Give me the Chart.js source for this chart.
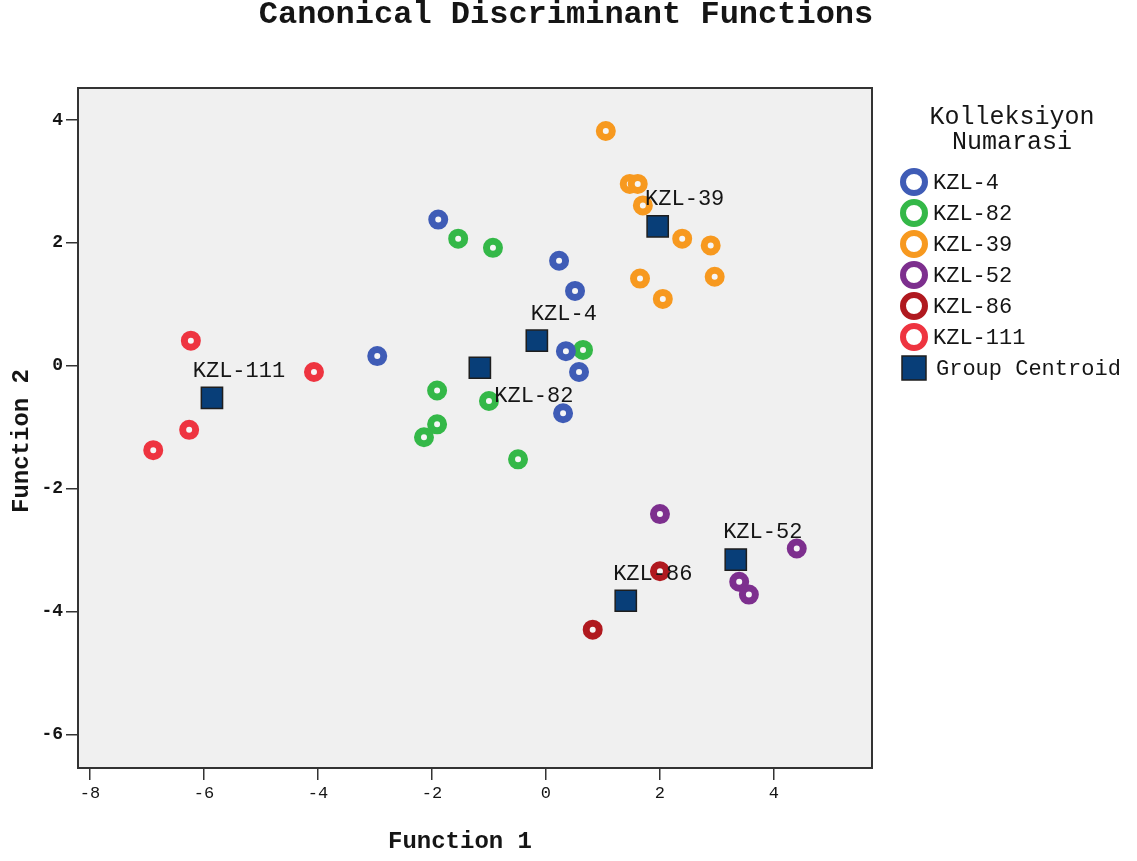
<!DOCTYPE html>
<html>
<head>
<meta charset="utf-8">
<script src="https://cdn.jsdelivr.net/npm/chart.js@4/dist/chart.umd.min.js"></script>
<style>
  html, body { margin: 0; padding: 0; background: #fff; }
  #wrap { width: 1137px; height: 861px; }
</style>
</head>
<body>
<div id="wrap"><canvas id="cdf"></canvas></div>
<script>
const groups = ["KZL-4", "KZL-82", "KZL-39", "KZL-52", "KZL-86", "KZL-111"];
const colors = ["#3f5cb6", "#34b848", "#f7991f", "#7d2f8e", "#b0191f", "#ee3440"];

// case scores, Function 1 / Function 2
const kzl4X = [-1.89, -2.96, 0.23, 0.51, 0.35, 0.58, 0.30];
const kzl4Y = [2.38, 0.16, 1.71, 1.22, 0.24, -0.10, -0.77];
const kzl82X = [-1.54, -0.93, 0.65, -1.91, -1.00, -1.91, -2.14, -0.49];
const kzl82Y = [2.07, 1.92, 0.26, -0.40, -0.57, -0.95, -1.16, -1.52];
const kzl39X = [1.05, 1.47, 1.61, 1.70, 2.39, 2.89, 2.96, 1.65, 2.05];
const kzl39Y = [3.82, 2.96, 2.96, 2.61, 2.07, 1.96, 1.45, 1.42, 1.09];
const kzl52X = [2.00, 4.40, 3.39, 3.56];
const kzl52Y = [-2.41, -2.97, -3.51, -3.72];
const kzl86X = [2.00, 0.82];
const kzl86Y = [-3.34, -4.29];
const kzl111X = [-6.23, -4.07, -6.26, -6.89];
const kzl111Y = [0.41, -0.10, -1.04, -1.37];

// group centroids, same order as groups
const centroidX = [-0.16, -1.16, 1.96, 3.33, 1.40, -5.86];
const centroidY = [0.41, -0.03, 2.27, -3.15, -3.82, -0.52];

const xTicks = [-8, -6, -4, -2, 0, 2, 4];
const yTicks = [-6, -4, -2, 0, 2, 4];

const seriesX = [kzl4X, kzl82X, kzl39X, kzl52X, kzl86X, kzl111X];
const seriesY = [kzl4Y, kzl82Y, kzl39Y, kzl52Y, kzl86Y, kzl111Y];

const MONO = "'Liberation Mono', 'Courier New', monospace";
const INK = "#151515";

const datasets = groups.map((g, i) => ({
  label: g,
  data: seriesX[i].map((x, j) => ({ x: x, y: seriesY[i][j] })),
  pointStyle: "circle",
  pointRadius: 6.5,
  pointHoverRadius: 6.5,
  borderWidth: 7,
  borderColor: colors[i],
  backgroundColor: "#f6f6f6",
  order: 2
}));

datasets.push({
  label: "Group Centroid",
  data: centroidX.map((x, i) => ({ x: x, y: centroidY[i] })),
  pointStyle: "rect",
  pointRadius: 15,
  pointHoverRadius: 15,
  borderWidth: 1.5,
  borderColor: "#1e1e1e",
  backgroundColor: "#083e78",
  order: 1
});

// label placement relative to centroid (px)
const labelShift = { "KZL-82": [54, 28] };

const frame = {
  id: "frame",
  beforeDatasetsDraw(chart) {
    const { ctx, chartArea: a } = chart;
    ctx.save();
    ctx.fillStyle = "#f0f0f0";
    ctx.fillRect(a.left, a.top, a.right - a.left, a.bottom - a.top);
    ctx.restore();
  },
  afterDatasetsDraw(chart) {
    const { ctx, chartArea: a, scales } = chart;
    ctx.save();
    ctx.strokeStyle = "#333";
    ctx.lineWidth = 2;
    ctx.strokeRect(a.left, a.top, a.right - a.left, a.bottom - a.top);

    // centroid labels
    ctx.font = "22px " + MONO;
    ctx.fillStyle = INK;
    ctx.textAlign = "center";
    ctx.textBaseline = "middle";
    groups.forEach((g, i) => {
      const px = scales.x.getPixelForValue(centroidX[i]);
      const py = scales.y.getPixelForValue(centroidY[i]);
      const s = labelShift[g] || [27, -27];
      ctx.fillText(g, px + s[0], py + s[1]);
    });
    ctx.restore();
  },
  afterDraw(chart) {
    const { ctx } = chart;
    ctx.save();
    ctx.fillStyle = INK;
    ctx.textBaseline = "middle";
    ctx.textAlign = "center";
    ctx.font = "bold 32px " + MONO;
    ctx.fillText("Canonical Discriminant Functions", 566, 15);

    // axis titles
    ctx.font = "bold 24px " + MONO;
    ctx.fillText("Function 1", 460, 842);
    ctx.save();
    ctx.translate(22, 441);
    ctx.rotate(-Math.PI / 2);
    ctx.fillText("Function 2", 0, 0);
    ctx.restore();

    // legend
    ctx.font = "25px " + MONO;
    ctx.fillText("Kolleksiyon", 1012, 117);
    ctx.fillText("Numarasi", 1012, 142);

    ctx.font = "22px " + MONO;
    ctx.textAlign = "left";
    const ds = chart.data.datasets;
    ds.forEach((d, i) => {
      const y = 182 + i * 31;
      if (d.pointStyle === "rect") {
        ctx.fillStyle = d.backgroundColor;
        ctx.fillRect(902, y - 12, 24, 24);
        ctx.strokeStyle = d.borderColor;
        ctx.lineWidth = 1.5;
        ctx.strokeRect(902, y - 12, 24, 24);
        ctx.fillStyle = INK;
        ctx.fillText(d.label, 936, y + 1);
      } else {
        ctx.beginPath();
        ctx.arc(914, y, 11, 0, Math.PI * 2);
        ctx.fillStyle = "#fff";
        ctx.fill();
        ctx.strokeStyle = d.borderColor;
        ctx.lineWidth = 6;
        ctx.stroke();
        ctx.fillStyle = INK;
        ctx.fillText(d.label, 933, y + 1);
      }
    });
    ctx.restore();
  }
};

new Chart(document.getElementById("cdf"), {
  type: "scatter",
  data: { datasets: datasets },
  options: {
    responsive: true,
    maintainAspectRatio: false,
    animation: false,
    layout: { padding: { top: 88, right: 265, left: 0, bottom: 0 } },
    plugins: {
      legend: { display: false },
      title: { display: false },
      tooltip: { enabled: false }
    },
    scales: {
      x: {
        type: "linear",
        min: -8.21,
        max: 5.72,
        afterFit(s) { s.height = 93; },
        afterBuildTicks(s) { s.ticks = xTicks.map(v => ({ value: v })); },
        grid: { drawOnChartArea: false, drawTicks: true, tickLength: 12, color: "#333", lineWidth: 1.5 },
        border: { display: false },
        ticks: { color: INK, padding: 3, font: { family: MONO, size: 17 }, maxRotation: 0 },
        title: { display: false }
      },
      y: {
        type: "linear",
        min: -6.54,
        max: 4.52,
        afterFit(s) { s.width = 78; },
        afterBuildTicks(s) { s.ticks = yTicks.map(v => ({ value: v })); },
        grid: { drawOnChartArea: false, drawTicks: true, tickLength: 12, color: "#333", lineWidth: 1.5 },
        border: { display: false },
        ticks: { color: INK, padding: 3, font: { family: MONO, size: 18, weight: "bold" } },
        title: { display: false }
      }
    }
  },
  plugins: [frame]
});
</script>
</body>
</html>
